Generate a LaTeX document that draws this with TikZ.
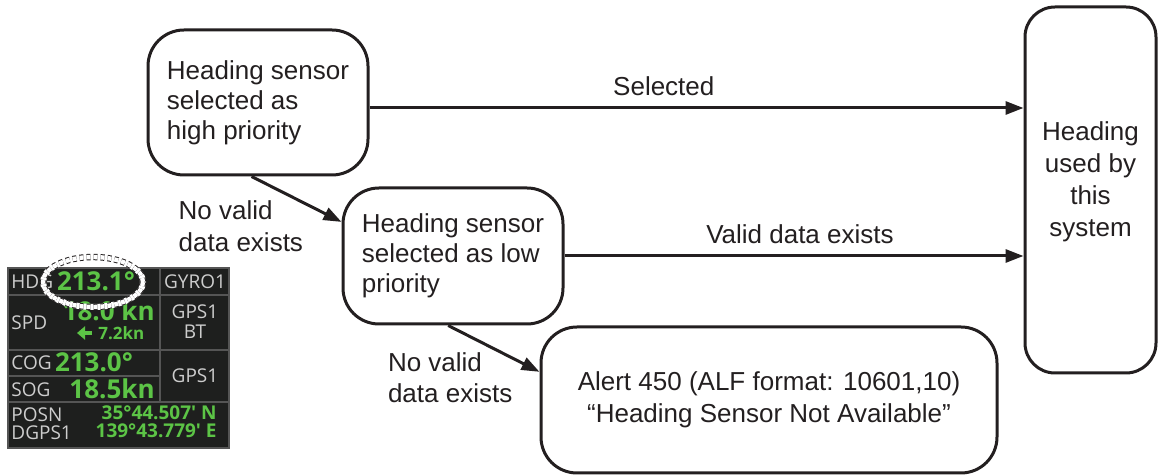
\documentclass[tikz,border=0pt]{standalone}
\usepackage{fontspec}
\setmainfont{Liberation Sans}
\newfontfamily\panelfont{Open Sans}
\usetikzlibrary{positioning}
\usetikzlibrary{arrows.meta}
\definecolor{ink}{RGB}{35,31,32}
\definecolor{panelbg}{RGB}{30,31,30}
\definecolor{panelgrid}{RGB}{85,85,85}
\definecolor{panelgray}{RGB}{205,205,205}
\definecolor{panelgreen}{RGB}{92,196,70}
\tikzset{
  flowbox/.style={draw=ink, text=ink, line width=1.5pt, rounded corners=18pt, align=left,
    inner sep=0pt, font=\fontsize{13}{15}\selectfont},
  flowarrow/.style={draw=ink, line width=1.5pt, -{Triangle[length=9pt,width=6.5pt]}},
  flowlabel/.style={text=ink, inner sep=0pt, align=left, font=\fontsize{13}{16}\selectfont},
  pnllabel/.style={text=panelgray, inner sep=0pt, font=\panelfont\fontsize{9.5}{10}\selectfont},
  pnlvalue/.style={text=panelgreen, inner sep=0pt, font=\panelfont\bfseries\fontsize{13}{14}\selectfont},
  pnlpos/.style={text=panelgreen, inner sep=0pt, font=\panelfont\bfseries\fontsize{9.5}{10}\selectfont}
}
\begin{document}
\begin{tikzpicture}[x=0.5pt, y=-0.5pt]
\useasboundingbox (0,0) rectangle (1158,475);

% flow boxes
\node[flowbox, minimum width=110pt, minimum height=72.5pt] (high) at (258,102.5)
  {Heading sensor\\selected as\\high priority};
\node[flowbox, minimum width=110pt, minimum height=68pt] (low) at (453,256)
  {Heading sensor\\selected as low\\priority};
\node[flowbox, align=center, font=\fontsize{13}{16}\selectfont,
  minimum width=228pt, minimum height=73pt] (alert) at (769,400)
  {Alert 450 (ALF format: 10601,10)\\“Heading Sensor Not Available”};
\node[flowbox, align=center, font=\fontsize{13}{16}\selectfont, rounded corners=15pt,
  text depth=10.5pt, minimum width=65.5pt, minimum height=183pt] (used) at (1090.5,190)
  {Heading\\used by\\this\\system};

% connectors
\coordinate (selstart) at ([yshift=-2.75pt]high.east);
\draw[flowarrow] (selstart) -- (selstart -| used.west)
  node[flowlabel, pos=0.45, above=5.5pt] (selected) {Selected};
\draw[flowarrow] (low.east) -- (low.east -| used.west)
  node[flowlabel, pos=0.513, above=5.5pt] (validdata) {Valid data exists};
\draw[flowarrow] (high.265) -- (low.163)
  node[flowlabel, midway, anchor=north east, xshift=4pt] (novalidhi) {No valid\\data exists};
\draw[flowarrow] (low.266) -- (alert.173)
  node[flowlabel, midway, anchor=north east, xshift=10pt, yshift=-1pt] (novalidlo) {No valid\\data exists};

% display panel
\fill[panelbg] (8,268) rectangle (229,448);
\draw[panelgrid, line width=0.6pt] (8,295) -- (229,295) (8,350) -- (229,350)
  (8,376) -- (160,376) (8,402) -- (229,402) (160,268) -- (160,402);
\draw[panelgrid, line width=0.6pt] (8,268) rectangle (229,448);

\foreach \nm/\txt/\y in {hdg/HDG/282, spd/SPD/323, cog/COG/363, sog/SOG/390, posn/POSN/415, dgps/DGPS1/433}
  \node[pnllabel, anchor=west] (\nm) at (11,\y) {\txt};
\foreach \nm/\txt/\y in {gyro/GYRO1/282, gpsa/GPS1/312, bt/BT/332, gpsb/GPS1/376}
  \node[pnllabel] (\nm) at (195,\y) {\txt};

\node[pnlvalue] (hdgval) at (96,281) {213.1°};
\node[pnlvalue, anchor=east] (spdval) at (155,311) {18.0 kn};
\node[pnlvalue] (cogval) at (94,362) {213.0°};
\node[pnlvalue, anchor=east] (sogval) at (155,389) {18.5kn};
\node[pnlpos, font=\panelfont\bfseries\fontsize{8.5}{10}\selectfont, anchor=west] (tideval) at (98,333) {7.2kn};
\draw[panelgreen, line width=2pt, -{Triangle[length=4pt,width=6.5pt]}] (92,333) -- (77,333);
\node[pnlpos, anchor=east] (latval) at (217,413) {35°44.507' N};
\node[pnlpos, anchor=east] (lonval) at (217,431) {139°43.779' E};

% highlight ring
\draw[white, line width=3pt] (hdgval.center) ++(-3,1) ellipse [x radius=25pt, y radius=12.5pt];
\draw[ink, line width=0.5pt, dash pattern=on 2pt off 1.5pt, double=white, double distance=2.2pt]
  (hdgval.center) ++(-3,1) ellipse [x radius=25pt, y radius=12.5pt];
\end{tikzpicture}
\end{document}
